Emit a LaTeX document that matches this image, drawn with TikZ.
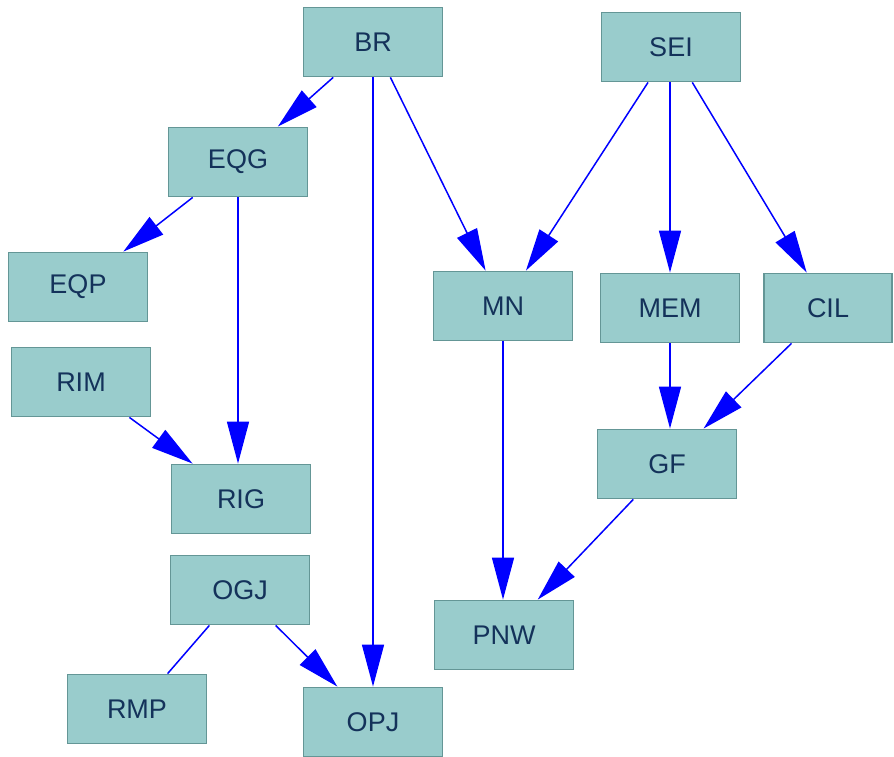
\documentclass[tikz,border=0pt]{standalone}
\usepackage{fontspec}
\setmainfont{Liberation Sans}
\usetikzlibrary{positioning, arrows.meta}
\definecolor{teal_fill}{RGB}{153,204,204}
\definecolor{teal_border}{RGB}{100,150,150}
\definecolor{navy}{RGB}{20,50,90}
\definecolor{blue}{RGB}{0,0,255}

\begin{document}
\begin{tikzpicture}[
    x=1pt, y=-1pt,
    job_box/.style={rectangle,
        fill=teal_fill,
        draw=teal_border,
        line width=1.8pt,
        text=navy,
        minimum width=139pt,
        minimum height=69pt,
        inner sep=0pt,
        font=\fontsize{27}{32}\selectfont,
        },
    dep_arrow/.style={
        color=blue,
        line width=1.5pt,
        -{Triangle[length=42pt, width=22pt]},
        },
    dep_line/.style={
        color=blue,
        line width=1.5pt,
        },
    ]
    \useasboundingbox (0,0) rectangle (894,757);

    \node[job_box] (n_br)  at (373,42)  {BR};
    \node[job_box] (n_sei) at (671,47)  {SEI};
    \node[job_box] (n_eqg) at (238,162) {EQG};
    \node[job_box] (n_eqp) at (78,287)  {EQP};
    \node[job_box] (n_mn)  at (503,306) {MN};
    \node[job_box] (n_mem) at (670,308) {MEM};
    \node[job_box, minimum width=128pt] (n_cil) at (828,308) {CIL};
    \node[job_box] (n_rim) at (81,382)  {RIM};
    \node[job_box] (n_gf)  at (667,464) {GF};
    \node[job_box] (n_rig) at (241,499) {RIG};
    \node[job_box] (n_ogj) at (240,590) {OGJ};
    \node[job_box] (n_pnw) at (504,635) {PNW};
    \node[job_box] (n_rmp) at (137,709) {RMP};
    \node[job_box] (n_opj) at (373,722) {OPJ};

    \draw[dep_arrow] (n_br) -- (n_eqg);
    \draw[dep_arrow] (n_br) -- (n_mn);
    \draw[dep_arrow] (n_br) -- (n_opj);
    \draw[dep_arrow] (n_sei) -- (n_mn);
    \draw[dep_arrow] (n_sei.south -| n_mem) -- (n_mem);
    \draw[dep_arrow] (n_sei) -- (n_cil);
    \draw[dep_arrow] (n_eqg) -- (n_eqp);
    \draw[dep_arrow] (n_eqg) -- (n_eqg |- n_rig.north);
    \draw[dep_arrow] (n_rim) -- (n_rig);
    \draw[dep_arrow] (n_mn) -- (n_mn |- n_pnw.north);
    \draw[dep_arrow] (n_mem) -- (n_mem |- n_gf.north);
    \draw[dep_arrow] (n_cil) -- (n_gf);
    \draw[dep_arrow] (n_gf) -- (n_pnw);
    \draw[dep_line] (n_ogj) -- (n_rmp);
    \draw[dep_arrow] (n_ogj) -- (n_opj);

\end{tikzpicture}
\end{document}
